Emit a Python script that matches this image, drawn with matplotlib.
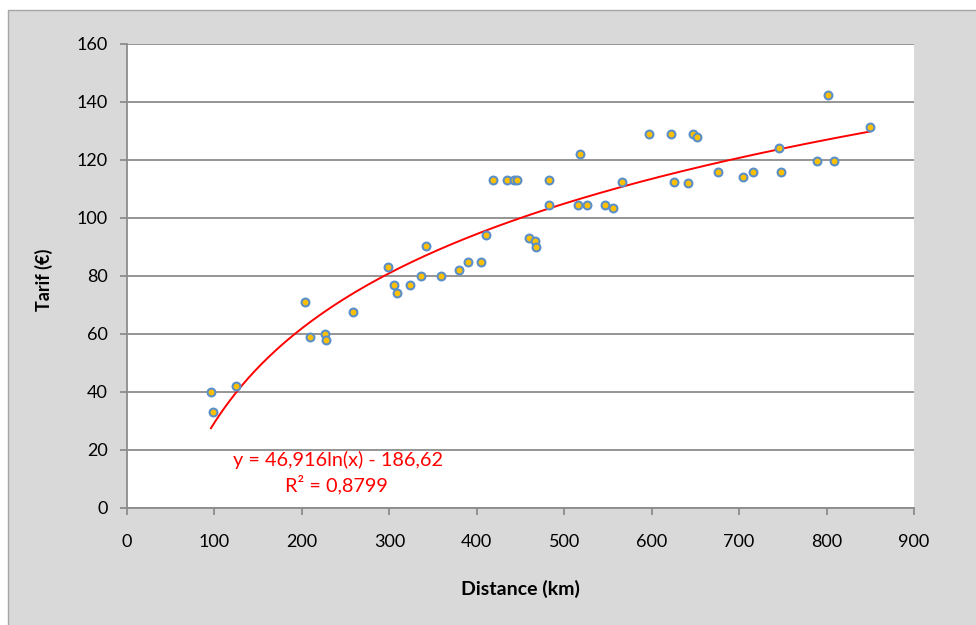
import numpy as np
import matplotlib
matplotlib.use("Agg")
import matplotlib.pyplot as plt
from matplotlib.patches import Rectangle

plt.rcParams['font.family'] = ['Lato', 'DejaVu Sans']

distance_km = [96, 98, 125, 204, 209, 226, 228, 259, 299, 305, 309, 324, 336, 342,
               359, 380, 390, 405, 411, 418, 434, 443, 446, 460, 467, 468, 483, 483,
               518, 516, 526, 547, 556, 566, 597, 622, 626, 641, 647, 652, 676, 704,
               716, 746, 748, 789, 808, 802, 850]
tarif_eur = [40, 33, 42, 71, 59, 60, 58, 67.5, 83, 77, 74, 77, 80, 90.5,
             80, 82, 85, 85, 94, 113, 113, 113, 113, 93, 92, 90, 113, 104.5,
             122, 104.5, 104.5, 104.5, 103.5, 112.5, 129, 129, 112.5, 112, 129, 128, 116, 114,
             116, 124, 116, 119.5, 119.5, 142.5, 131.5]

# logarithmic trendline coefficients shown on chart
trend_a = 46.916
trend_b = -186.62
trend_label = "y = 46,916ln(x) - 186,62"
r2_label = "R² = 0,8799"

x_ticks = [0, 100, 200, 300, 400, 500, 600, 700, 800, 900]
y_ticks = [0, 20, 40, 60, 80, 100, 120, 140, 160]

W, H = 976, 625
fig = plt.figure(figsize=(W / 100, H / 100), dpi=100)
fig.patch.set_facecolor('white')
bg = Rectangle((8 / W, -0.01), 1.0, 1 - 10 / H + 0.01, transform=fig.transFigure,
               facecolor='#d9d9d9', edgecolor='#a6a6a6', linewidth=1.0, zorder=-10)
fig.add_artist(bg)

ax = fig.add_axes([127 / W, 1 - 508 / H, (914 - 127) / W, (508 - 44) / H])
ax.set_zorder(5)
ax.set_facecolor('white')

ax.set_xlim(0, 900)
ax.set_ylim(0, 160)
ax.set_xticks(x_ticks)
ax.set_yticks(y_ticks)
ax.yaxis.grid(True, color='#8c8c8c', linewidth=1.3)
ax.set_axisbelow(True)
for s in ['top', 'right']:
    ax.spines[s].set_visible(False)
for s in ['left', 'bottom']:
    ax.spines[s].set_color('#8c8c8c')
    ax.spines[s].set_linewidth(1.3)
ax.tick_params(axis='both', direction='out', length=5, width=1.3, color='#8c8c8c',
               labelsize=13, labelcolor='#000000')
ax.tick_params(axis='x', pad=14)
ax.tick_params(axis='y', pad=9)

xs = np.linspace(min(distance_km), max(distance_km), 300)
ax.plot(xs, trend_a * np.log(xs) + trend_b, color='#ff0000', linewidth=1.4, zorder=2)

ax.scatter(distance_km, tarif_eur, s=32, facecolor='#ffc000', edgecolor='#5b8fc9',
           linewidths=1.5, zorder=3)

ax.text(241, 16.5, trend_label, color='#ff0000', fontsize=14.3, ha='center', va='center')
ax.text(240, 8.0, r2_label, color='#ff0000', fontsize=14.3, ha='center', va='center')

fig.text(520 / W, 1 - 589 / H, 'Distance (km)', fontsize=14, fontweight='bold',
         ha='center', va='center')
fig.text(44 / W, 1 - 280 / H, 'Tarif (€)', fontsize=13, fontweight='bold',
         ha='center', va='center', rotation=90)

fig.savefig('out.png', dpi=100, facecolor=fig.get_facecolor())
